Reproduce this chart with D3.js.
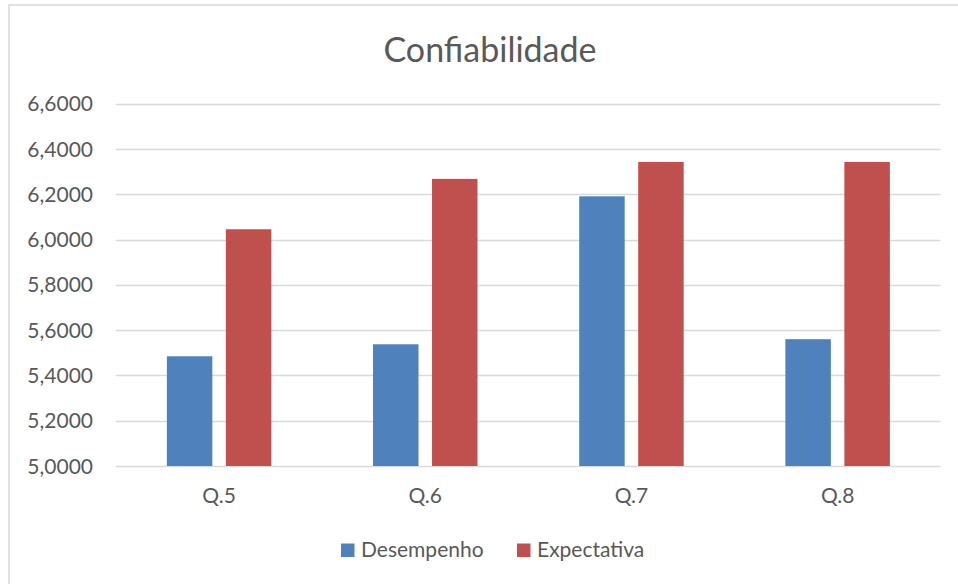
<!DOCTYPE html>
<html>
<head>
<meta charset="utf-8">
<script src="https://d3js.org/d3.v7.min.js"></script>
<style>
  body { margin: 0; background: #fff; }
  text { font-family: Lato, "Open Sans", sans-serif; fill: #595959; }
</style>
</head>
<body>
<script>
// chart data
var categories = ["Q.5", "Q.6", "Q.7", "Q.8"];
var seriesNames = ["Desempenho", "Expectativa"];
var desempenho = [5.4845, 5.5375, 6.1910, 5.5600];
var expectativa = [6.0455, 6.2680, 6.3430, 6.3430];
var yTicks = [5.0, 5.2, 5.4, 5.6, 5.8, 6.0, 6.2, 6.4, 6.6];
var colors = ["#4f81bd", "#c0504d"];

var width = 958, height = 584;
// plot area edges (note: "top" is reserved on window, so use plot* names)
var plotLeft = 116, plotRight = 940.7, plotTop = 103.7, plotBottom = 466;

var svg = d3.select("body").append("svg")
    .attr("width", width)
    .attr("height", height);

// chart border
svg.append("rect")
    .attr("x", 9).attr("y", 5)
    .attr("width", 970).attr("height", 600)
    .attr("fill", "none")
    .attr("stroke", "#d9d9d9")
    .attr("stroke-width", 1.5);

var y = d3.scaleLinear().domain([5.0, 6.6]).range([plotBottom, plotTop]);
var x0 = d3.scaleBand().domain(categories).range([plotLeft, plotRight]).padding(0);
var x1 = d3.scaleBand().domain(seriesNames).range([0, x0.bandwidth()])
    .paddingInner(0.229).paddingOuter(0.862);

// gridlines
svg.append("g").selectAll("line")
    .data(yTicks)
    .enter().append("line")
    .attr("x1", plotLeft).attr("x2", plotRight)
    .attr("y1", function(d) { return Math.round(y(d)) + 0.5; })
    .attr("y2", function(d) { return Math.round(y(d)) + 0.5; })
    .attr("stroke", "#d9d9d9")
    .attr("stroke-width", 1.3);

// y tick labels
svg.append("g").selectAll("text")
    .data(yTicks)
    .enter().append("text")
    .attr("x", 93)
    .attr("y", function(d) { return y(d); })
    .attr("dy", "0.36em")
    .attr("text-anchor", "end")
    .style("font-size", "21px")
    .text(function(d) { return d.toFixed(4).replace(".", ","); });

// bars
var rows = categories.map(function(c, i) {
    return { cat: c, values: [desempenho[i], expectativa[i]] };
});

var groups = svg.append("g").selectAll("g")
    .data(rows)
    .enter().append("g")
    .attr("transform", function(d) { return "translate(" + x0(d.cat) + ",0)"; });

groups.selectAll("rect")
    .data(function(d) { return d.values.map(function(v, j) { return { name: seriesNames[j], v: v, j: j }; }); })
    .enter().append("rect")
    .attr("x", function(d) { return x1(d.name); })
    .attr("width", x1.bandwidth())
    .attr("y", function(d) { return y(d.v); })
    .attr("height", function(d) { return plotBottom - y(d.v); })
    .attr("fill", function(d) { return colors[d.j]; });

// category labels
svg.append("g").selectAll("text")
    .data(categories)
    .enter().append("text")
    .attr("x", function(d) { return x0(d) + x0.bandwidth() / 2; })
    .attr("y", 503)
    .attr("text-anchor", "middle")
    .style("font-size", "21px")
    .text(function(d) { return d; });

// title
svg.append("text")
    .attr("x", 490).attr("y", 62)
    .attr("text-anchor", "middle")
    .style("font-size", "34px")
    .text("Confiabilidade");

// legend
var legendX = [341, 517];
var legend = svg.append("g").selectAll("g")
    .data(seriesNames)
    .enter().append("g")
    .attr("transform", function(d, i) { return "translate(" + legendX[i] + ",0)"; });
legend.append("rect")
    .attr("x", 0).attr("y", 543.5)
    .attr("width", 13.5).attr("height", 13.5)
    .attr("fill", function(d, i) { return colors[i]; });
legend.append("text")
    .attr("x", 20).attr("y", 557)
    .style("font-size", "21px")
    .text(function(d) { return d; });
</script>
</body>
</html>
